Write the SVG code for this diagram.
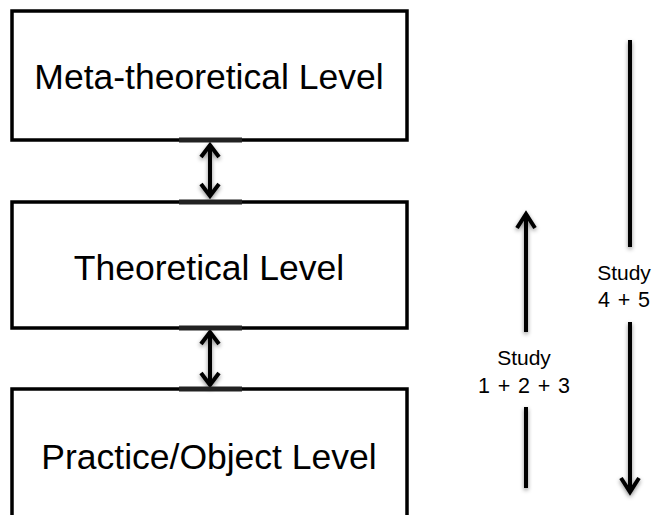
<svg xmlns="http://www.w3.org/2000/svg" width="659" height="515" viewBox="0 0 659 515">
<defs>
<style>
.box{fill:#fff;stroke:#000;stroke-width:3.5}
.bar{fill:#222}
.lbl{font-family:"Liberation Sans",Arial,Helvetica,sans-serif;font-size:35.5px;fill:#000;text-anchor:middle}
.sm{font-family:"Liberation Sans",Arial,Helvetica,sans-serif;font-size:21px;fill:#000;text-anchor:middle}
.num{font-size:21.5px}
.ln{fill:none;stroke:#000;stroke-width:4;stroke-linecap:butt;stroke-linejoin:miter}
</style>
<filter id="sh" x="-50%" y="-10%" width="200%" height="120%">
<feDropShadow dx="0" dy="2" stdDeviation="2.2" flood-color="#000" flood-opacity="0.45"/>
</filter>
</defs>
<rect width="659" height="515" fill="#fff"/>
<g id="node-meta">
<rect class="box" x="12" y="11" width="395" height="129"/>
<text class="lbl" x="209" y="89">Meta-theoretical  Level</text>
</g>
<g id="node-theoretical">
<rect class="box" x="12" y="202" width="395" height="126"/>
<text class="lbl" x="209" y="280">Theoretical Level</text>
</g>
<g id="node-practice">
<rect class="box" x="12" y="389" width="395" height="140"/>
<text class="lbl" x="209" y="469">Practice/Object Level</text>
</g>
<g id="connectors">
<g filter="url(#sh)">
<path class="ln" d="M210,145 V196 M201,157 L210,145 L219,157 M201,184 L210,196 L219,184"/>
<path class="ln" d="M210,332 V385 M201,344 L210,332 L219,344 M201,373 L210,385 L219,373"/>
<path class="ln" d="M526,488 V407 M526,332 V214 M517,228 L526,214 L535,228"/>
<path class="ln" d="M630,40 V247 M630,322 V492 M621,478 L630,492 L639,478"/>
</g>
<rect class="bar" x="179" y="137.5" width="63" height="5"/>
<rect class="bar" x="179" y="199.5" width="63" height="5"/>
<rect class="bar" x="179" y="325.5" width="63" height="5"/>
<rect class="bar" x="179" y="386.5" width="63" height="5"/>
</g>
<g id="label-study45">
<text class="sm" x="624" y="280">Study</text>
<text class="sm num" x="624" y="307" textLength="52" lengthAdjust="spacing">4 + 5</text>
</g>
<g id="label-study123">
<text class="sm" x="524" y="365">Study</text>
<text class="sm num" x="524" y="393" textLength="92" lengthAdjust="spacing">1 + 2 + 3</text>
</g>
</svg>
